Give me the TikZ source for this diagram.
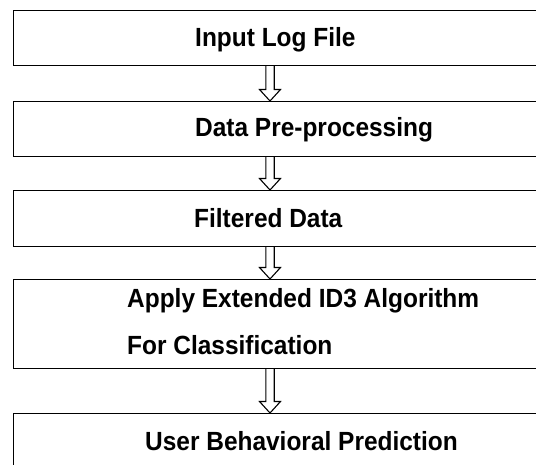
\documentclass[tikz,border=0pt]{standalone}
\usepackage{fontspec}
\setmainfont{Liberation Sans}
\newfontfamily\boxfont[FakeStretch=0.93]{Liberation Sans}
\usetikzlibrary{calc}

\tikzset{
  stage/.style={draw=black, line width=1.2pt, rectangle, inner sep=0pt,
    anchor=north west, minimum width=540pt},
  label/.style={inner sep=0pt, anchor=base west,
    font=\boxfont\fontsize{26.3}{30}\selectfont\bfseries},
  hollow/.style={draw=black, fill=white, line width=1.1pt, line join=miter}
}

% block arrow from the bottom of box #1 to the top of box #2, along x = 270
\newcommand{\flowarrow}[2]{%
  \draw[hollow]
    ($(ax |- #1.south)+(-4.2,0)$) -- ($(ax |- #2.north)+(-4.2,-11.5)$)
    -- ($(ax |- #2.north)+(-10.5,-11.5)$) -- (ax |- #2.north)
    -- ($(ax |- #2.north)+(10.5,-11.5)$) -- ($(ax |- #2.north)+(4.2,-11.5)$)
    -- ($(ax |- #1.south)+(4.2,0)$);%
}

\begin{document}
\begin{tikzpicture}[x=1pt, y=-1pt]
  \clip (0,0) rectangle (536,465);
  \fill[white] (0,0) rectangle (536,465);

  \coordinate (ax) at (270,0);

  % process boxes
  \node[stage, minimum height=55pt] (b1) at (13,10)  {};
  \node[stage, minimum height=55pt] (b2) at (13,101) {};
  \node[stage, minimum height=56pt] (b3) at (13,190) {};
  \node[stage, minimum height=89pt] (b4) at (13,279) {};
  \node[stage, minimum height=70pt] (b5) at (13,413) {};

  % box texts
  \node[label] (t1)  at (195,47)  {Input Log File};
  \node[label] (t2)  at (195,137) {Data Pre-processing};
  \node[label] (t3)  at (194,228) {Filtered Data};
  \node[label] (t4a) at (127,308) {Apply Extended ID3 Algorithm};
  \node[label] (t4b) at (127,355) {For Classification};
  \node[label] (t5)  at (145,450) {User Behavioral Prediction};

  % flow arrows
  \flowarrow{b1}{b2}
  \flowarrow{b2}{b3}
  \flowarrow{b3}{b4}
  \flowarrow{b4}{b5}
\end{tikzpicture}
\end{document}
